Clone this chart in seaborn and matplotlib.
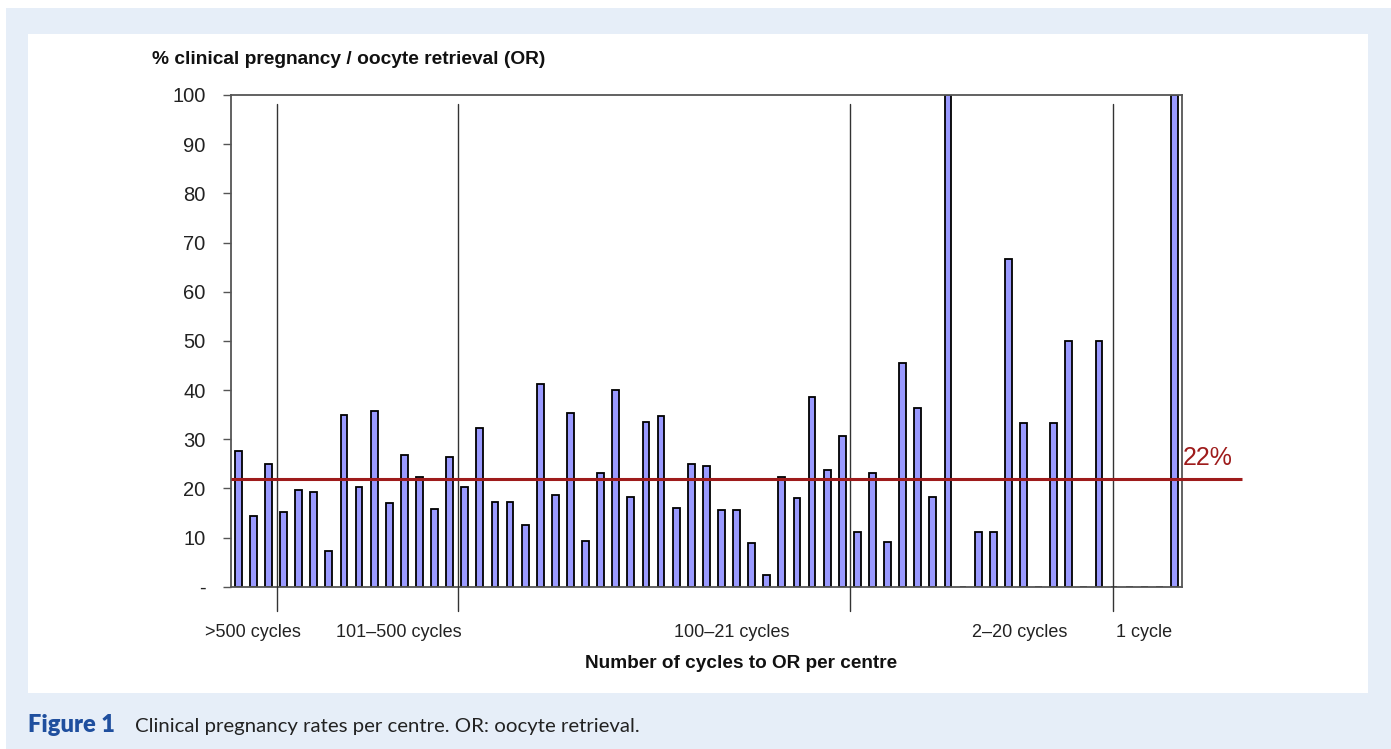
import matplotlib
matplotlib.use("Agg")
import matplotlib.pyplot as plt
import numpy as np
import pandas as pd
import seaborn as sns
from matplotlib.patches import Rectangle

# Clinical pregnancy rate (%) per centre, centres ordered by volume of oocyte retrievals
centre_ids = [str(i) for i in range(1, 64)]
pregnancy_rate = [
    27.6, 14.3, 25.0,                                              # >500 cycles
    15.1, 19.7, 19.3, 7.3, 35.0, 20.3, 35.7, 17.1, 26.7, 22.4,     # 101-500 cycles
    15.9, 26.4,
    20.3, 32.3, 17.2, 17.2, 12.5, 41.2, 18.7, 35.4, 9.2, 23.1,     # 100-21 cycles
    40.1, 18.2, 33.5, 34.7, 16.1, 25.0, 24.5, 15.6, 15.6, 8.9,
    2.4, 22.4, 18.0, 38.6, 23.8, 30.6,
    11.1, 23.1, 9.1, 45.5, 36.4, 18.2, 100.0, 0.0, 11.1, 11.1,     # 2-20 cycles
    66.7, 33.3, 0.0, 33.3, 50.0, 0.0, 50.0,
    0.0, 0.0, 0.0, 0.0, 100.0,                                     # 1 cycle
]
mean_rate = 22

group_labels = [">500 cycles", "101\u2013500 cycles", "100\u201321 cycles",
                "2\u201320 cycles", "1 cycle"]
group_label_pos = [0.99, 10.62, 32.66, 51.72, 60.0]
group_dividers = [2.59, 14.57, 40.5, 57.9]

y_ticks = [0, 10, 20, 30, 40, 50, 60, 70, 80, 90, 100]
y_tick_labels = ["-", "10", "20", "30", "40", "50", "60", "70", "80", "90", "100"]

df = pd.DataFrame({"centre": centre_ids, "rate": pregnancy_rate})

sns.set_style("ticks")
plt.rcParams["font.family"] = ["Liberation Sans", "DejaVu Sans"]

W, H = 1391, 749
fig = plt.figure(figsize=(W / 100, H / 100), dpi=100)
fig.patch.set_facecolor("white")

def fx(x):
    return x / W

def fy(y):
    return 1 - y / H

# page panel background
fig.patches.append(Rectangle((fx(6), 0), 1 - fx(6), fy(8), transform=fig.transFigure,
                             facecolor="#e6eef8", edgecolor="none", zorder=-5))
fig.patches.append(Rectangle((fx(28), fy(693)), fx(1368 - 28), (693 - 34) / H,
                             transform=fig.transFigure, facecolor="white",
                             edgecolor="none", zorder=-4))

ax = fig.add_axes([fx(230.7), fy(586.7), fx(1182 - 230.7), (586.7 - 95) / H])
ax.set_zorder(1)
ax.set_facecolor("none")

sns.barplot(data=df, x="centre", y="rate", order=centre_ids, color="#9a9aff",
            saturation=1, width=0.45, edgecolor="black", linewidth=1.3, ax=ax,
            zorder=2)

ax.set_xlim(-0.5, len(centre_ids) - 0.5)
ax.set_ylim(0, 100)

for s in ax.spines.values():
    s.set_color("#555555")
    s.set_linewidth(1.3)
    s.set_visible(True)

ax.set_yticks(y_ticks, y_tick_labels, fontsize=14.5, color="#222222")
ax.tick_params(axis="y", direction="out", length=6, width=1, color="#555555", pad=12)
ax.set_xticks(group_label_pos, group_labels, fontsize=13, color="#222222")
ax.tick_params(axis="x", length=0, pad=27)
ax.set_xlabel("")
ax.set_ylabel("")

# centre-size group dividers
for xd in group_dividers:
    ax.plot([xd, xd], [-4.9, 98.2], color="#333333", lw=1.0, clip_on=False, zorder=3)

# overall mean line
ax.plot([-0.5, 66.5], [mean_rate, mean_rate], color="#9e1b1b", lw=2.2,
        clip_on=False, zorder=4, solid_capstyle="butt")
ax.text(62.57, mean_rate + 2.8, f"{mean_rate}%", color="#9e1b1b", fontsize=18,
        ha="left", va="baseline", clip_on=False)

fig.text(fx(152), fy(59), "% clinical pregnancy / oocyte retrieval (OR)",
         fontsize=13.8, fontweight="bold", ha="left", va="center", color="#111111")
fig.text(fx(741), fy(664), "Number of cycles to OR per centre",
         fontsize=13.7, fontweight="bold", ha="center", va="center", color="#111111")

fig.text(fx(28), fy(732), "Figure 1", fontsize=17, fontweight="heavy",
         color="#1f4f9e", ha="left", va="baseline", family=["Lato", "DejaVu Sans"])
fig.text(fx(135), fy(732), "Clinical pregnancy rates per centre. OR: oocyte retrieval.",
         fontsize=14.7, color="#222222", ha="left", va="baseline",
         family=["Lato", "DejaVu Sans"])

fig.savefig("out.png", dpi=100)
